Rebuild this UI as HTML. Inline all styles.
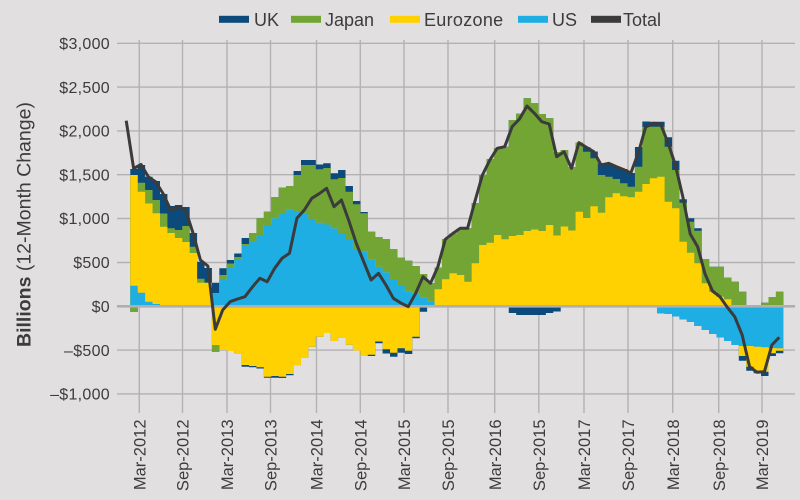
<!DOCTYPE html>
<html><head><meta charset="utf-8"><style>
html,body{margin:0;padding:0;background:#e1dfe0;}
svg{display:block;}
text{font-family:"Liberation Sans",sans-serif;fill:#3c3c3c;}
</style></head><body>
<svg width="800" height="500" viewBox="0 0 800 500" xmlns="http://www.w3.org/2000/svg">
<rect x="0" y="0" width="800" height="500" fill="#e1dfe0"/>
<!-- gridlines -->
<g stroke="#b3b1b2" stroke-width="1.4" fill="none">
<line x1="117" y1="43.3" x2="795" y2="43.3"/>
<line x1="117" y1="87.1" x2="795" y2="87.1"/>
<line x1="117" y1="130.9" x2="795" y2="130.9"/>
<line x1="117" y1="174.7" x2="795" y2="174.7"/>
<line x1="117" y1="218.5" x2="795" y2="218.5"/>
<line x1="117" y1="262.5" x2="795" y2="262.5"/>
<line x1="117" y1="350.1" x2="795" y2="350.1"/>
<line x1="117" y1="393.9" x2="795" y2="393.9"/>
<line x1="139.3" y1="40" x2="139.3" y2="413"/>
<line x1="182.5" y1="40" x2="182.5" y2="413"/>
<line x1="227" y1="40" x2="227" y2="413"/>
<line x1="270.5" y1="40" x2="270.5" y2="413"/>
<line x1="316.5" y1="40" x2="316.5" y2="413"/>
<line x1="360.3" y1="40" x2="360.3" y2="413"/>
<line x1="404" y1="40" x2="404" y2="413"/>
<line x1="448" y1="40" x2="448" y2="413"/>
<line x1="494.7" y1="40" x2="494.7" y2="413"/>
<line x1="538.8" y1="40" x2="538.8" y2="413"/>
<line x1="584" y1="40" x2="584" y2="413"/>
<line x1="628" y1="40" x2="628" y2="413"/>
<line x1="672.7" y1="40" x2="672.7" y2="413"/>
<line x1="718.7" y1="40" x2="718.7" y2="413"/>
<line x1="762" y1="40" x2="762" y2="413"/>
</g>
<g transform="translate(130.3 0) scale(7.421 1)">
<!-- positive stacks -->
<path fill="#0b4a7b" d="M0 306.3V169H1V165H2V176.7H3V181H4V194H5V206H6V205H7V207H8V233H9V261.7H10V268H11V282.7H12V268.3H13V260H14V253.5H15V238H16V233.3H17V218.3H18V211.5H19V197.3H20V187.5H21V186H22V171H23V160H24V160H25V164.5H26V163.3H27V173.3H28V170H29V186H30V201H31V212H32V231.7H33V237.3H34V239.3H35V249.3H36V257.7H37V260.7H38V266H39V274H40V283H41V267.5H42V239.3H43V233.5H44V228.5H45V228.3H46V203H47V175H48V159H49V148.3H50V146.7H51V120H52V113.5H53V98.3H54V103.3H55V114H56V118.3H57V152H58V150H59V167H60V142.5H61V147.3H62V151.5H63V163.3H64V163.3H65V166.5H66V169H67V173H68V147H69V121.5H70V121.7H71V121.7H72V137.3H73V160.7H74V199.3H75V218.3H76V228.3H77V259H78V266.7H79V266.7H80V277.5H81V281.7H82V291.7H83V306.3H85V302.7H86V297.3H87V291.7H88V306.3Z"/>
<path fill="#73a535" d="M0 306.3V175H1V182.7H2V190H3V200H4V213.5H5V228.3H6V230H7V226H8V246.7H9V278.7H10V282.7H11V293.3H12V275H13V263.5H14V257H15V244H16V233.3H17V218.3H18V211.5H19V197.3H20V187.5H21V186H22V175H23V165H24V165H25V169.3H26V168H27V179.3H28V178H29V191.7H30V204.3H31V213.3H32V231.7H33V237.3H34V239.3H35V249.3H36V257.7H37V260.7H38V266H39V274H40V283H41V267.5H42V239.3H43V233.5H44V228.5H45V228.3H46V203H47V175H48V159H49V148.3H50V146.7H51V120H52V113.5H53V98.3H54V103.3H55V114H56V118.3H57V152H58V150H59V167H60V142.5H61V151.7H62V158.3H63V175H64V176.7H65V179H66V183.3H67V186.7H68V166.7H69V127H70V126.7H71V126.7H72V146.7H73V170H74V202.7H75V221.7H76V230.7H77V259H78V266.7H79V266.7H80V277.5H81V281.7H82V291.7H83V306.3H85V302.7H86V297.3H87V291.7H88V306.3Z"/>
<path fill="#ffd100" d="M0 306.3V175H1V191.7H2V203.5H3V213.3H4V226.7H5V233H6V238H7V242H8V253H9V282.7H11V293.3H12V280H13V268H14V260H15V245H16V242H17V235H18V225H19V218.3H20V213.5H21V209.3H22V211.5H23V214H24V219H25V222.7H26V224.5H27V228.3H28V234H29V239.5H30V250H31V251.7H32V259.3H33V266.7H34V272.2H35V280H36V286H37V291.7H38V293.3H39V297.3H40V301.7H41V289.3H42V279.3H43V273.3H44V275H45V281.7H46V263.3H47V245H48V242.7H49V235H50V239.3H51V236H52V235H53V231H54V229.5H55V231H56V225H57V235.5H58V226.5H59V230.5H60V211.7H61V218H62V206.3H63V212.7H64V197.3H65V193.3H66V196.3H67V197.3H68V191.7H69V184H70V178.3H71V176.7H72V201.7H73V208.3H74V241.7H75V252.7H76V263.3H77V283.3H78V291.7H79V296.7H80V299.3H81V306.3Z"/>
<path fill="#1eaee3" d="M0 306.3V285.7H1V292.7H2V301.7H3V304H4V306.3H11V293.3H12V280H13V268H14V260H15V245H16V242H17V235H18V225H19V218.3H20V213.5H21V209.3H22V211.5H23V214H24V219H25V222.7H26V224.5H27V228.3H28V234H29V239.5H30V250H31V251.7H32V259.3H33V266.7H34V272.2H35V280H36V286H37V291.7H38V293.3H39V297.3H40V301.7H41V306.3Z"/>
<!-- negative stacks -->
<path fill="#0b4a7b" d="M0 306.3V312H1V306.3Z M11 306.3V351.7H12V350H13V351H14V353.3H15V366.7H16V367.3H17V368.5H18V377.7H19V377.7H20V378H21V375.3H22V365.5H23V358H24V346.7H25V336.7H26V333H27V341H28V337.3H29V344.7H30V350.5H31V356H32V356H33V343.3H34V353.5H35V356.7H36V352.7H37V354H38V338.3H39V311.7H40V306.3Z M51 306.3V313H52V315H56V313H57V311.5H58V306.3Z M71 306.3V313.3H72V314H73V316.5H74V319.5H75V322H76V326H77V330H78V334H79V337.5H80V341H81V345H82V360.7H83V370.7H84V373.3H85V376H86V356H87V353.3H88V306.3Z"/>
<path fill="#73a535" d="M0 306.3V312H1V306.3Z M11 306.3V351.7H12V306.3Z"/>
<path fill="#ffd100" d="M11 306.3V345H12V350H13V351H14V353.3H15V365H16V366H17V367.3H18V376.7H19V376H20V376.7H21V374H22V365.5H23V358H24V346.7H25V336.7H26V333H27V341H28V337.3H29V344.7H30V350.5H31V356H32V354.7H33V341.5H34V349.3H35V352.7H36V348.3H37V350.7H38V336.7H39V306.3Z M82 306.3V356H83V366.7H84V370.7H85V371.7H86V353.3H87V350.7H88V306.3Z"/>
<path fill="#1eaee3" d="M71 306.3V313.3H72V314H73V316.5H74V319.5H75V322H76V326H77V330H78V334H79V337.5H80V341H81V345H82V346H83V346H84V346.7H85V347.3H86V348H87V348.3H88V306.3Z"/>
</g>
<!-- zero line -->
<line x1="117" y1="306.3" x2="795" y2="306.3" stroke="#b0aeaf" stroke-width="2.6"/>
<!-- total line -->
<g transform="translate(130.3 0) scale(7.421 1)">
<path fill="none" stroke="#3b3b3b" stroke-width="3" vector-effect="non-scaling-stroke" stroke-linejoin="round" stroke-linecap="butt" d="M-0.55 120.7L0.45 168.5L1.45 164.5L2.45 177L3.45 182L4.45 194L5.45 210L6.45 207L7.45 210L8.45 233L9.45 260L10.45 266L11.45 329.3L12.45 310L13.45 301.7L14.45 299L15.45 296.7L16.45 287L17.45 278.3L18.45 281.7L19.45 268.3L20.45 258.3L21.45 253.3L22.45 218.3L23.45 210L24.45 198.3L25.45 193.7L26.45 188.3L27.45 206.7L28.45 200L29.45 220.7L30.45 243.3L31.45 261.7L32.45 280L33.45 273.3L34.45 285L35.45 298.3L36.45 303L37.45 306.7L38.45 293.3L39.45 276.7L40.45 283.3L41.45 266.7L42.45 239.3L43.45 233.5L44.45 228.3L45.45 228.3L46.45 201L47.45 175L48.45 160L49.45 148.3L50.45 146.7L51.45 126.7L52.45 119L53.45 106L54.45 113.3L55.45 121.7L56.45 124L57.45 156.7L58.45 151.7L59.45 168.3L60.45 142.7L61.45 147.3L62.45 151.7L63.45 165L64.45 163.3L65.45 166.5L66.45 169.5L67.45 173L68.45 153L69.45 127L70.45 123.3L71.45 124L72.45 142.5L73.45 165L74.45 196.7L75.45 234L76.45 246.7L77.45 274L78.45 291L79.45 296.7L80.45 307.3L81.45 316.7L82.45 335L83.45 366.7L84.45 372.3L85.45 371.7L86.45 345L87.45 337.3"/>
</g>
<!-- y tick labels -->
<g font-size="16" text-anchor="end" letter-spacing="0.3">
<text x="110" y="49">$3,000</text>
<text x="110" y="92.8">$2,500</text>
<text x="110" y="136.6">$2,000</text>
<text x="110" y="180.4">$1,500</text>
<text x="110" y="224.2">$1,000</text>
<text x="110" y="268.2">$500</text>
<text x="110" y="312">$0</text>
<text x="110" y="355.8">–$500</text>
<text x="110" y="399.6">–$1,000</text>
</g>
<!-- y title -->
<text transform="translate(30.5 347) rotate(-90)" font-size="19.5" fill="#333"><tspan font-weight="bold">Billions</tspan> (12-Month Change)</text>
<!-- x labels -->
<g font-size="16.5" text-anchor="end">
<text transform="translate(145.5 419.5) rotate(-90)">Mar-2012</text>
<text transform="translate(188.7 419.5) rotate(-90)">Sep-2012</text>
<text transform="translate(233.2 419.5) rotate(-90)">Mar-2013</text>
<text transform="translate(276.7 419.5) rotate(-90)">Sep-2013</text>
<text transform="translate(322.7 419.5) rotate(-90)">Mar-2014</text>
<text transform="translate(366.5 419.5) rotate(-90)">Sep-2014</text>
<text transform="translate(410.2 419.5) rotate(-90)">Mar-2015</text>
<text transform="translate(454.2 419.5) rotate(-90)">Sep-2015</text>
<text transform="translate(500.9 419.5) rotate(-90)">Mar-2016</text>
<text transform="translate(545 419.5) rotate(-90)">Sep-2015</text>
<text transform="translate(590.2 419.5) rotate(-90)">Mar-2017</text>
<text transform="translate(634.2 419.5) rotate(-90)">Sep-2017</text>
<text transform="translate(678.9 419.5) rotate(-90)">Mar-2018</text>
<text transform="translate(724.9 419.5) rotate(-90)">Sep-2018</text>
<text transform="translate(768.2 419.5) rotate(-90)">Mar-2019</text>
</g>
<!-- legend -->
<g font-size="18">
<rect x="219" y="15.8" width="30" height="7" fill="#0b4a7b"/>
<text x="254" y="25.8">UK</text>
<rect x="291" y="15.8" width="30" height="7" fill="#73a535"/>
<text x="325" y="25.8">Japan</text>
<rect x="390" y="15.8" width="30" height="7" fill="#ffd100"/>
<text x="424" y="25.8" letter-spacing="0.3">Eurozone</text>
<rect x="518" y="15.8" width="30" height="7" fill="#1eaee3"/>
<text x="552" y="25.8">US</text>
<rect x="591" y="15.8" width="30" height="7" fill="#3b3b3b"/>
<text x="623" y="25.8">Total</text>
</g>
</svg>
</body></html>
